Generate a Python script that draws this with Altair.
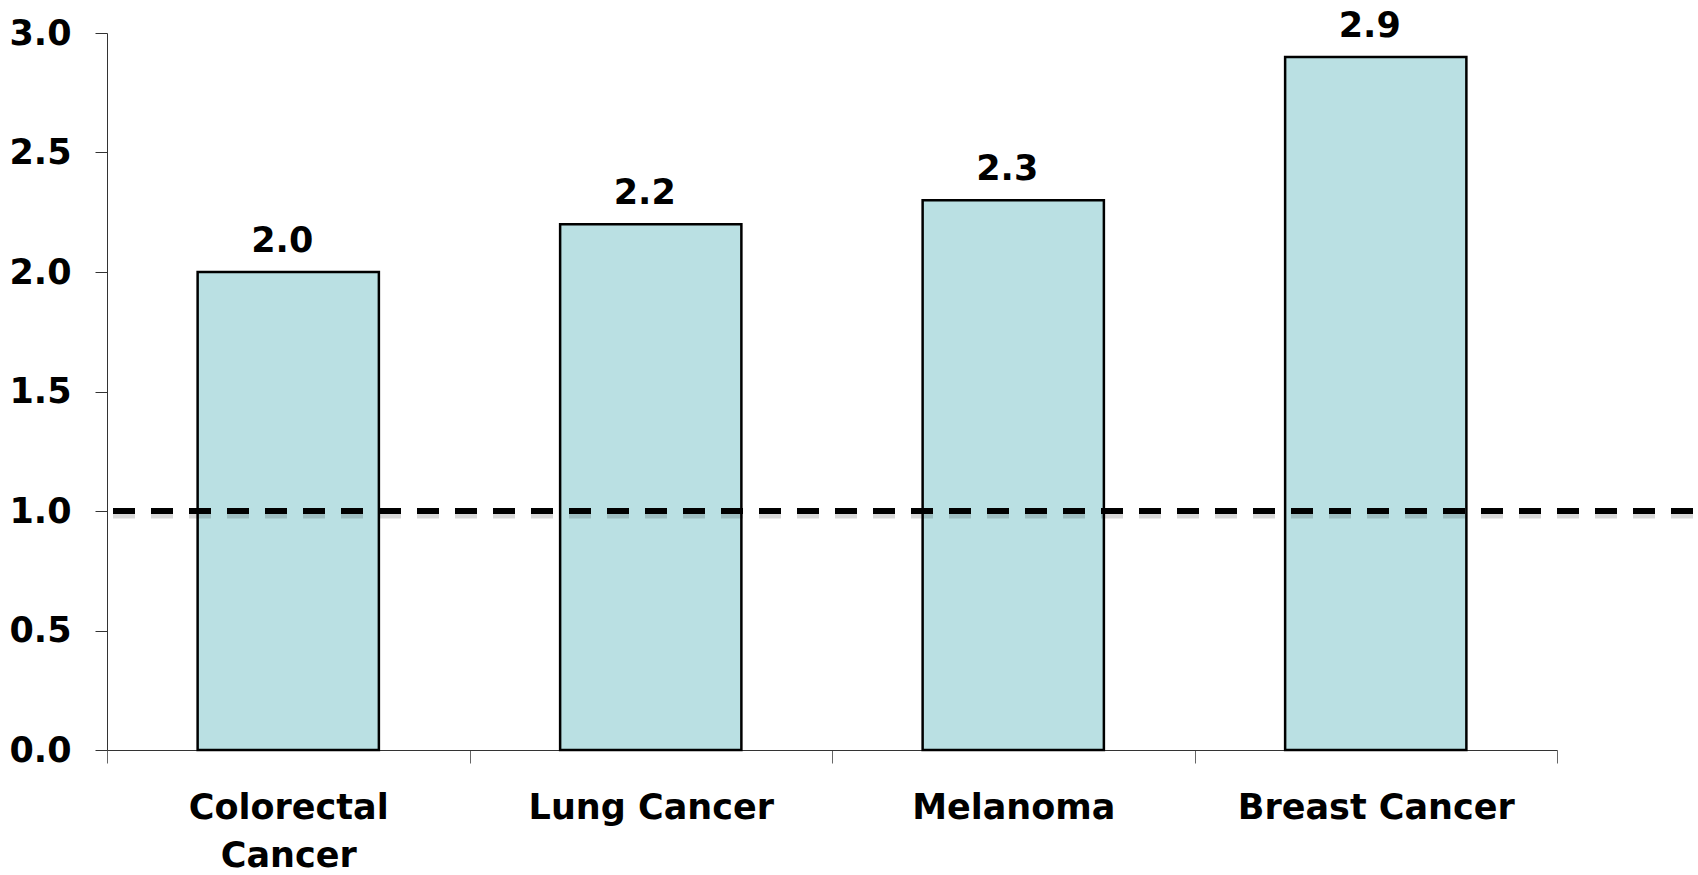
import altair as alt
import pandas as pd

# Cancer types and their ratios
categories = ["Colorectal Cancer", "Lung Cancer", "Melanoma", "Breast Cancer"]
values = [2.0, 2.2, 2.3, 2.9]
reference_level = 1.0
y_ticks = [0.0, 0.5, 1.0, 1.5, 2.0, 2.5, 3.0]

df = pd.DataFrame({"category": categories, "value": values})

FONT = "DejaVu Sans"
FONT_SIZE = 35

x_enc = alt.X(
    "category:N",
    sort=categories,
    scale=alt.Scale(paddingInner=0, paddingOuter=0),
    axis=alt.Axis(
        title=None,
        labelAngle=0,
        tickBand="extent",
        labelExpr="datum.value == 'Colorectal Cancer' ? ['Colorectal', 'Cancer'] : datum.label",
        labelFont=FONT,
        labelFontSize=FONT_SIZE,
        labelFontWeight="bold",
        labelColor="black",
        labelLimit=0,
        labelPadding=27,
        labelLineHeight=48,
        tickSize=13,
        tickColor="#666666",
        domainColor="#333333",
        labelBaseline="top",
    ),
)

y_enc = alt.Y(
    "value:Q",
    scale=alt.Scale(domain=[0, 3], nice=False),
    axis=alt.Axis(
        title=None,
        values=y_ticks,
        format=".1f",
        grid=False,
        labelFont=FONT,
        labelFontSize=FONT_SIZE,
        labelFontWeight="bold",
        labelColor="black",
        labelPadding=24,
        tickSize=12,
        tickColor="#333333",
        domainColor="#333333",
    ),
)

base = alt.Chart(df)

bars = base.mark_bar(
    width=alt.RelativeBandSize(0.5),
    color="#BAE0E3",
    stroke="black",
    strokeWidth=2.5,
).encode(x=x_enc, y=y_enc)

labels = base.mark_text(
    font=FONT,
    fontSize=FONT_SIZE,
    fontWeight="bold",
    color="black",
    baseline="alphabetic",
    dy=-20,
    dx=-6,
).encode(
    x=alt.X("category:N", sort=categories),
    y="value:Q",
    text=alt.Text("value:Q", format=".1f"),
)

ref_df = pd.DataFrame({"level": [reference_level]})

# soft shadow under the dashed reference line
shadow = alt.Chart(ref_df).mark_rule(
    color="black",
    strokeWidth=9,
    strokeDash=[22, 16],
    opacity=0.15,
    yOffset=3,
    clip=False,
).encode(
    y="level:Q",
    x=alt.value(6),
    x2=alt.value(1591),
)

ref_line = alt.Chart(ref_df).mark_rule(
    color="black",
    strokeWidth=6,
    strokeDash=[22, 16],
    clip=False,
).encode(
    y="level:Q",
    x=alt.value(6),
    x2=alt.value(1591),
)

chart = (
    alt.layer(bars, labels, shadow, ref_line)
    .properties(
        width=1450,
        height=717,
        autosize=alt.AutoSizeParams(type="none"),
        padding={"left": 107, "top": 33, "right": 141, "bottom": 125},
        background="white",
    )
    .configure_view(stroke=None)
)

chart.save("out.html", embed_options={"renderer": "svg", "actions": False})
